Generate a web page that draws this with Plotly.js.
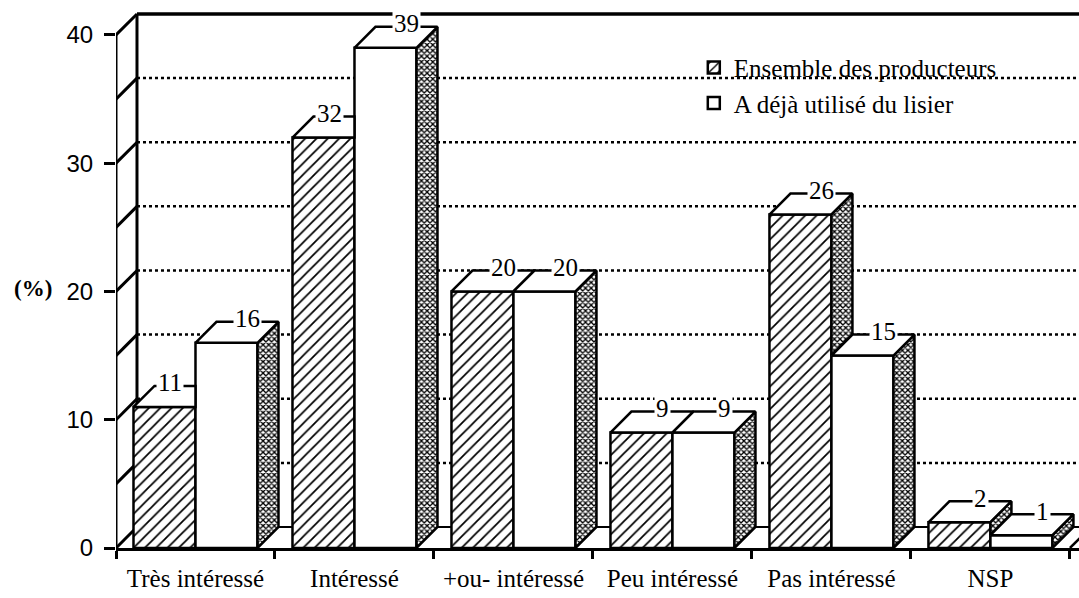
<!DOCTYPE html>
<html>
<head>
<meta charset="utf-8">
<script src="https://cdn.plot.ly/plotly-3.0.1.min.js"></script>
<style>html,body{margin:0;padding:0;background:#fff;}#chart{width:1079px;height:598px;}</style>
</head>
<body>
<div id="chart"></div>
<script>
// ---- data ----
const categories = ['Très intéressé', 'Intéressé', '+ou- intéressé', 'Peu intéressé', 'Pas intéressé', 'NSP'];
const ensemble = [11, 32, 20, 9, 26, 2];
const lisier = [16, 39, 20, 9, 15, 1];
const seriesNames = ['Ensemble des producteurs', 'A déjà utilisé du lisier'];
const yTickVals = [0, 10, 20, 30, 40];
const yAxisLabel = '(%)';

// ---- geometry of the pseudo-3D look ----
const DX = 0.132;   // depth, x units
const DY = 1.637;   // depth, y units
const BW = 0.39;    // bar width
const XMIN = -0.5, XMAX = 5.557, YMAX = 41.87;

const idx = categories.map((c, i) => i);
const serif = 'Liberation Serif, Times New Roman, serif';
const sans = 'Liberation Sans, Arial, sans-serif';

const traces = [
  {type: 'bar', name: seriesNames[0], x: idx, y: ensemble,
   marker: {color: 'white', line: {color: 'black', width: 2.5},
            pattern: {shape: '/', size: 8, solidity: 0.22, fgcolor: 'black', bgcolor: 'white'}},
   hoverinfo: 'skip'},
  {type: 'bar', name: seriesNames[1], x: idx, y: lisier,
   marker: {color: 'white', line: {color: 'black', width: 2.5}},
   hoverinfo: 'skip'}
];

function poly(xs, ys, fillStyle) {
  const t = {type: 'scatter', mode: 'lines', x: xs.concat([xs[0]]), y: ys.concat([ys[0]]),
             fill: 'toself', line: {color: 'black', width: 2.5}, showlegend: false, hoverinfo: 'skip',
             fillcolor: 'white'};
  if (fillStyle === 'stipple') {
    t.fillpattern = {shape: 'x', size: 4, solidity: 0.55, fgcolor: 'black', bgcolor: 'white'};
  }
  return t;
}

const annotations = [];
const labelFont = {family: serif, size: 25, color: 'black'};
idx.forEach(i => {
  const a = ensemble[i], b = lisier[i];
  const hl = i - BW, hr = i, wl = i, wr = i + BW;
  // hatched bar top face
  if (b > a) {
    traces.push(poly([hl, hr, hr, hl + DX], [a, a, Math.min(b, a + DY), a + DY], 'white'));
  } else {
    traces.push(poly([hl, hr, hr + DX, hl + DX], [a, a, a + DY, a + DY], 'white'));
  }
  // hatched bar side face (visible part above the white bar)
  if (a > b) {
    traces.push(poly([hr, hr + DX, hr + DX, hr], [b, b + DY, a + DY, a], 'stipple'));
  }
  // white bar side face
  traces.push(poly([wr, wr + DX, wr + DX, wr], [0, DY, b + DY, b], 'stipple'));
  // white bar top face
  traces.push(poly([wl, wr, wr + DX, wl + DX], [b, b, b + DY, b + DY], 'white'));

  annotations.push({x: (b > a) ? (i - BW / 2 + DX / 2 - 0.03) : (i - BW / 2 + DX), y: a + DY,
    xref: 'x', yref: 'y', text: String(a), showarrow: false, font: labelFont,
    bgcolor: 'white', borderpad: 1, yshift: 3});
  annotations.push({x: i + BW / 2 + DX, y: b + DY,
    xref: 'x', yref: 'y', text: String(b), showarrow: false, font: labelFont,
    bgcolor: 'white', borderpad: 1, yshift: 3});
});

annotations.push({x: -0.108, xanchor: 'left', y: 0.483, xref: 'paper', yref: 'paper', text: '<b>' + yAxisLabel + '</b>',
  showarrow: false, font: {family: serif, size: 23, color: 'black'}});

const shapes = [];
const ln = (x0, y0, x1, y1, w, dash) => ({type: 'line', xref: 'x', yref: 'y', x0, y0, x1, y1, layer: 'below',
  line: {color: 'black', width: w, dash: dash || 'solid'}});
shapes.push(ln(XMIN, 0, XMIN, 40, 3));
for (let v = 0; v <= 40; v += 5) shapes.push(ln(XMIN, v, XMIN + DX, v + DY, 3));
shapes.push(ln(XMIN + DX, DY, XMIN + DX, 40 + DY, 3));
shapes.push(ln(XMIN + DX, 40 + DY, XMAX + 0.2, 40 + DY, 3.5));
for (let v = 5; v <= 35; v += 5) shapes.push(ln(XMIN + DX, v + DY, XMAX + 0.2, v + DY, 2.5, 'dot'));
shapes.push(ln(XMIN + DX, DY, XMAX + 0.2, DY, 2));
shapes.push(ln(5.5, 0, 5.5 + DX, DY, 2.5));

const layout = {
  width: 1079, height: 598,
  margin: {l: 116, r: 0, t: 11, b: 50},
  paper_bgcolor: 'white', plot_bgcolor: 'white',
  barmode: 'group', bargap: 0.22, bargroupgap: 0,
  showlegend: true,
  legend: {x: 0.6, y: 0.937, xanchor: 'left', yanchor: 'top', bgcolor: 'rgba(0,0,0,0)',
           font: {family: serif, size: 25, color: 'black'}, tracegroupgap: 0, traceorder: 'normal'},
  xaxis: {range: [XMIN, XMAX], tickmode: 'array', tickvals: idx, ticktext: categories, ticks: '',
          showgrid: false, zeroline: false, showline: true, linewidth: 3, linecolor: 'black',
          tickfont: {family: serif, size: 25, color: 'black'}, ticklabelstandoff: 6,
          minor: {tickmode: 'array', tickvals: [-0.5, 0.5, 1.5, 2.5, 3.5, 4.5, 5.5], ticks: 'outside',
                  ticklen: 8, tickwidth: 3, tickcolor: 'black', showgrid: false},
          fixedrange: true},
  yaxis: {range: [0, YMAX], tickmode: 'array', tickvals: yTickVals, ticks: 'outside', ticklen: 11,
          tickwidth: 3, tickcolor: 'black', showgrid: false, zeroline: false, showline: false,
          tickfont: {family: sans, size: 24, color: 'black'}, ticklabelstandoff: 6, fixedrange: true},
  shapes: shapes,
  annotations: annotations
};

Plotly.newPlot('chart', traces, layout, {displayModeBar: false, staticPlot: true});
</script>
</body>
</html>
